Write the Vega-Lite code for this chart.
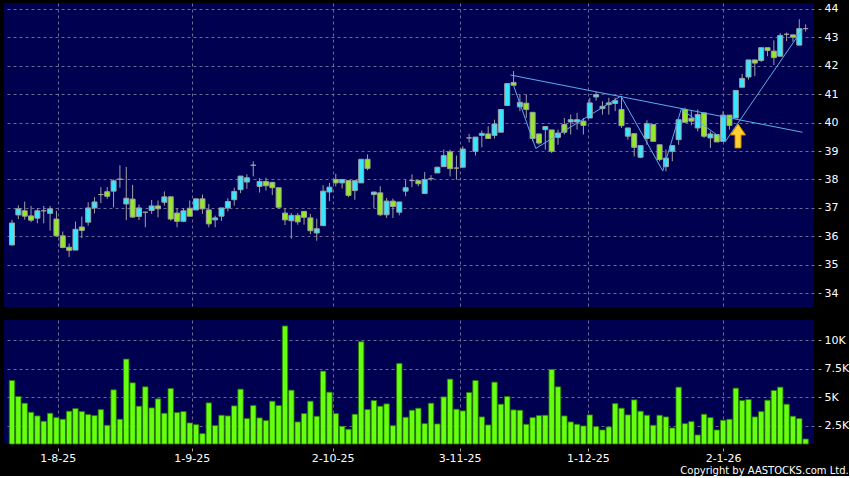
{
  "$schema": "https://vega.github.io/schema/vega-lite/v6.json",
  "background": "#000000",
  "padding": {"left": 4, "top": 2, "right": 0, "bottom": 0},
  "spacing": 13,
  "config": {
    "view": {"fill": "#000050", "stroke": null},
    "font": "DejaVu Sans",
    "axis": {"labelColor": "#ffffff", "labelFont": "DejaVu Sans", "labelFontSize": 11, "tickColor": "#aaaaaa", "gridColor": "#6a6a96", "gridDash": [3, 3], "gridWidth": 1, "domain": false, "labelOverlap": false}
  },
  "title": {"text": "Copyright by AASTOCKS.com Ltd.", "orient": "bottom", "anchor": "end", "frame": "bounds", "color": "#ffffff", "fontSize": 10, "font": "DejaVu Sans", "fontWeight": "normal", "offset": 3},
  "datasets": {
    "k": [
      {"i":0,"o":35.70,"h":36.58,"l":35.68,"c":36.47,"v":6471},
      {"i":1,"o":36.755,"h":37.09,"l":36.61,"c":36.97,"v":5058},
      {"i":2,"o":36.90,"h":37.225,"l":36.59,"c":36.71,"v":4469},
      {"i":3,"o":36.72,"h":37.07,"l":36.50,"c":36.57,"v":3673},
      {"i":4,"o":36.64,"h":37.00,"l":36.46,"c":36.90,"v":3349},
      {"i":5,"o":36.90,"h":37.07,"l":36.46,"c":36.90,"v":2878},
      {"i":6,"o":36.81,"h":37.07,"l":36.20,"c":36.97,"v":3585},
      {"i":7,"o":36.61,"h":36.90,"l":36.00,"c":36.02,"v":3202},
      {"i":8,"o":36.02,"h":36.17,"l":35.58,"c":35.61,"v":3055},
      {"i":9,"o":35.62,"h":35.75,"l":35.28,"c":35.51,"v":3762},
      {"i":10,"o":35.52,"h":36.52,"l":35.52,"c":36.25,"v":3997},
      {"i":11,"o":36.33,"h":36.70,"l":35.94,"c":36.21,"v":3732},
      {"i":12,"o":36.50,"h":37.20,"l":36.38,"c":37.00,"v":3467},
      {"i":13,"o":37.00,"h":37.38,"l":36.81,"c":37.21,"v":3379},
      {"i":14,"o":37.47,"h":37.73,"l":37.17,"c":37.47,"v":3909},
      {"i":15,"o":37.57,"h":37.73,"l":37.32,"c":37.41,"v":2525},
      {"i":16,"o":37.59,"h":38.00,"l":37.02,"c":37.955,"v":5647},
      {"i":17,"o":38.01,"h":38.50,"l":37.71,"c":38.01,"v":3055},
      {"i":18,"o":37.14,"h":38.44,"l":36.57,"c":37.34,"v":8356},
      {"i":19,"o":37.31,"h":37.81,"l":36.65,"c":36.68,"v":6265},
      {"i":20,"o":36.70,"h":37.12,"l":36.57,"c":37.00,"v":4204},
      {"i":21,"o":36.85,"h":36.85,"l":36.32,"c":36.85,"v":5912},
      {"i":22,"o":36.91,"h":37.28,"l":36.79,"c":37.07,"v":4056},
      {"i":23,"o":37.07,"h":37.26,"l":36.67,"c":36.97,"v":4851},
      {"i":24,"o":37.20,"h":37.58,"l":37.08,"c":37.39,"v":3585},
      {"i":25,"o":37.39,"h":37.40,"l":36.55,"c":36.61,"v":5765},
      {"i":26,"o":36.82,"h":36.99,"l":36.32,"c":36.53,"v":3644},
      {"i":27,"o":36.53,"h":37.00,"l":36.50,"c":36.90,"v":3732},
      {"i":28,"o":36.99,"h":37.26,"l":36.71,"c":36.71,"v":2731},
      {"i":29,"o":36.93,"h":37.32,"l":36.93,"c":37.32,"v":2584},
      {"i":30,"o":37.32,"h":37.47,"l":36.79,"c":36.97,"v":1789},
      {"i":31,"o":36.93,"h":37.14,"l":36.32,"c":36.44,"v":4498},
      {"i":32,"o":36.58,"h":36.73,"l":36.32,"c":36.65,"v":2496},
      {"i":33,"o":36.71,"h":37.00,"l":36.55,"c":37.00,"v":3408},
      {"i":34,"o":37.00,"h":37.34,"l":36.88,"c":37.225,"v":3349},
      {"i":35,"o":37.29,"h":37.71,"l":37.08,"c":37.58,"v":4233},
      {"i":36,"o":37.64,"h":38.12,"l":37.52,"c":38.12,"v":5706},
      {"i":37,"o":37.91,"h":38.18,"l":37.67,"c":38.06,"v":3114},
      {"i":38,"o":38.50,"h":38.64,"l":38.11,"c":38.50,"v":4263},
      {"i":39,"o":37.755,"h":38.05,"l":37.54,"c":37.93,"v":3173},
      {"i":40,"o":37.93,"h":38.06,"l":37.61,"c":37.78,"v":2937},
      {"i":41,"o":37.90,"h":37.90,"l":37.45,"c":37.71,"v":4645},
      {"i":42,"o":37.71,"h":37.71,"l":36.97,"c":37.025,"v":4263},
      {"i":43,"o":36.82,"h":37.00,"l":36.40,"c":36.58,"v":11271},
      {"i":44,"o":36.55,"h":36.82,"l":35.92,"c":36.74,"v":5617},
      {"i":45,"o":36.74,"h":36.82,"l":36.41,"c":36.51,"v":2819},
      {"i":46,"o":36.88,"h":36.88,"l":36.41,"c":36.67,"v":3556},
      {"i":47,"o":36.65,"h":36.79,"l":36.08,"c":36.20,"v":4645},
      {"i":48,"o":36.12,"h":36.62,"l":35.85,"c":36.27,"v":3320},
      {"i":49,"o":36.38,"h":37.80,"l":36.38,"c":37.59,"v":7296},
      {"i":50,"o":37.56,"h":37.88,"l":37.24,"c":37.73,"v":5440},
      {"i":51,"o":38.00,"h":38.20,"l":37.76,"c":37.88,"v":3556},
      {"i":52,"o":37.88,"h":38.00,"l":37.68,"c":38.00,"v":2437},
      {"i":53,"o":37.96,"h":37.96,"l":37.38,"c":37.44,"v":2171},
      {"i":54,"o":37.61,"h":37.96,"l":37.29,"c":37.96,"v":3497},
      {"i":55,"o":37.88,"h":38.71,"l":37.88,"c":38.71,"v":9887},
      {"i":56,"o":38.71,"h":38.88,"l":38.32,"c":38.39,"v":3909},
      {"i":57,"o":37.47,"h":37.56,"l":37.00,"c":37.56,"v":4704},
      {"i":58,"o":37.53,"h":37.76,"l":36.71,"c":36.76,"v":4204},
      {"i":59,"o":36.76,"h":37.35,"l":36.65,"c":37.24,"v":4410},
      {"i":60,"o":37.24,"h":37.33,"l":36.65,"c":37.05,"v":2496},
      {"i":61,"o":36.85,"h":37.21,"l":36.74,"c":37.21,"v":7973},
      {"i":62,"o":37.59,"h":37.98,"l":37.41,"c":37.71,"v":3232},
      {"i":63,"o":37.96,"h":38.18,"l":37.73,"c":37.96,"v":3850},
      {"i":64,"o":37.96,"h":37.96,"l":37.76,"c":37.85,"v":4027},
      {"i":65,"o":37.51,"h":38.26,"l":37.51,"c":38.00,"v":2672},
      {"i":66,"o":38.03,"h":38.15,"l":37.95,"c":38.03,"v":4469},
      {"i":67,"o":38.23,"h":38.45,"l":38.23,"c":38.43,"v":2643},
      {"i":68,"o":38.45,"h":39.05,"l":38.45,"c":38.84,"v":5028},
      {"i":69,"o":38.97,"h":39.05,"l":38.11,"c":38.38,"v":6589},
      {"i":70,"o":38.40,"h":38.84,"l":37.99,"c":38.40,"v":3938},
      {"i":71,"o":38.43,"h":39.17,"l":38.43,"c":39.07,"v":3791},
      {"i":72,"o":39.46,"h":39.60,"l":39.30,"c":39.46,"v":5411},
      {"i":73,"o":38.99,"h":39.49,"l":38.84,"c":39.49,"v":6471},
      {"i":74,"o":39.55,"h":39.72,"l":39.13,"c":39.62,"v":3261},
      {"i":75,"o":39.60,"h":39.87,"l":39.44,"c":39.44,"v":2554},
      {"i":76,"o":39.55,"h":40.10,"l":39.44,"c":39.95,"v":6324},
      {"i":77,"o":39.66,"h":40.46,"l":39.66,"c":40.46,"v":4380},
      {"i":78,"o":40.60,"h":41.37,"l":40.60,"c":41.37,"v":5058},
      {"i":79,"o":41.41,"h":41.81,"l":41.30,"c":41.31,"v":3880},
      {"i":80,"o":40.55,"h":40.98,"l":40.40,"c":40.71,"v":3850},
      {"i":81,"o":40.68,"h":40.98,"l":40.16,"c":40.46,"v":2613},
      {"i":82,"o":40.36,"h":40.36,"l":39.34,"c":39.44,"v":3202},
      {"i":83,"o":39.60,"h":39.60,"l":39.22,"c":39.28,"v":3379},
      {"i":84,"o":39.75,"h":39.86,"l":39.05,"c":39.86,"v":3408},
      {"i":85,"o":39.74,"h":39.74,"l":38.93,"c":38.99,"v":7443},
      {"i":86,"o":39.48,"h":39.75,"l":39.22,"c":39.63,"v":5912},
      {"i":87,"o":39.93,"h":40.16,"l":39.58,"c":39.66,"v":3349},
      {"i":88,"o":40.02,"h":40.28,"l":39.58,"c":40.10,"v":2819},
      {"i":89,"o":40.02,"h":40.34,"l":39.75,"c":40.10,"v":2613},
      {"i":90,"o":40.05,"h":40.16,"l":39.58,"c":39.90,"v":2466},
      {"i":91,"o":40.16,"h":40.87,"l":40.16,"c":40.69,"v":3438},
      {"i":92,"o":40.90,"h":41.08,"l":40.77,"c":40.98,"v":2407},
      {"i":93,"o":40.49,"h":40.75,"l":40.28,"c":40.57,"v":2113},
      {"i":94,"o":40.63,"h":40.87,"l":40.28,"c":40.69,"v":2378},
      {"i":95,"o":40.67,"h":40.87,"l":40.40,"c":40.77,"v":4439},
      {"i":96,"o":40.46,"h":40.93,"l":39.81,"c":39.89,"v":4027},
      {"i":97,"o":39.52,"h":39.81,"l":39.40,"c":39.81,"v":3438},
      {"i":98,"o":39.61,"h":39.61,"l":38.81,"c":39.13,"v":4763},
      {"i":99,"o":38.78,"h":39.19,"l":38.75,"c":39.19,"v":3762},
      {"i":100,"o":39.44,"h":40.08,"l":39.22,"c":39.96,"v":3408},
      {"i":101,"o":39.93,"h":39.93,"l":39.34,"c":39.34,"v":2525},
      {"i":102,"o":39.22,"h":39.22,"l":38.64,"c":38.70,"v":3408},
      {"i":103,"o":38.45,"h":39.05,"l":38.29,"c":38.75,"v":3261},
      {"i":104,"o":38.99,"h":39.19,"l":38.64,"c":39.19,"v":2289},
      {"i":105,"o":39.40,"h":40.10,"l":39.22,"c":40.10,"v":5882},
      {"i":106,"o":40.46,"h":40.52,"l":40.01,"c":40.01,"v":2672},
      {"i":107,"o":40.15,"h":40.40,"l":39.90,"c":40.05,"v":2849},
      {"i":108,"o":39.81,"h":40.46,"l":39.69,"c":40.28,"v":1671},
      {"i":109,"o":40.34,"h":40.34,"l":39.46,"c":39.52,"v":3497},
      {"i":110,"o":39.46,"h":39.69,"l":39.11,"c":39.60,"v":3202},
      {"i":111,"o":39.58,"h":39.58,"l":39.32,"c":39.32,"v":2113},
      {"i":112,"o":39.34,"h":40.40,"l":39.34,"c":40.26,"v":2967},
      {"i":113,"o":40.26,"h":40.26,"l":39.75,"c":39.90,"v":3055},
      {"i":114,"o":40.16,"h":41.13,"l":40.14,"c":41.13,"v":5794},
      {"i":115,"o":41.24,"h":41.71,"l":41.24,"c":41.55,"v":4704},
      {"i":116,"o":41.60,"h":42.20,"l":41.51,"c":42.20,"v":4792},
      {"i":117,"o":42.20,"h":42.20,"l":41.63,"c":42.09,"v":3261},
      {"i":118,"o":42.18,"h":42.63,"l":42.13,"c":42.63,"v":3732},
      {"i":119,"o":42.63,"h":42.63,"l":42.33,"c":42.53,"v":4733},
      {"i":120,"o":42.51,"h":42.89,"l":42.02,"c":42.28,"v":5588},
      {"i":121,"o":42.33,"h":43.14,"l":42.33,"c":43.06,"v":5882},
      {"i":122,"o":43.10,"h":43.16,"l":42.86,"c":43.10,"v":4380},
      {"i":123,"o":43.08,"h":43.08,"l":42.84,"c":43.00,"v":3320},
      {"i":124,"o":42.72,"h":43.63,"l":42.72,"c":43.30,"v":3114},
      {"i":125,"o":43.30,"h":43.45,"l":43.20,"c":43.30,"v":1317}
    ],
    "res": [{"i": 78.5, "p": 41.67}, {"i": 124.5, "p": 39.66}],
    "zz": [
      {"i": 79, "p": 41.3},
      {"i": 82.5, "p": 39.09},
      {"i": 95.9, "p": 40.93},
      {"i": 102.5, "p": 38.3},
      {"i": 105.4, "p": 40.47},
      {"i": 112.4, "p": 39.35},
      {"i": 124.5, "p": 43.28}
    ],
    "arrow": [{"i": 114.35, "p": 39.53}]
  },
  "vconcat": [
    {
      "width": 810,
      "height": 304,
      "encoding": {
        "x": {"field": "i", "type": "quantitative", "title": null,
          "scale": {"domain": [-0.47, 125.53], "nice": false, "zero": false},
          "axis": {"values": [7.2, 28.3, 50.5, 70.5, 90.7, 112], "labels": false, "ticks": false, "grid": true, "title": null}}
      },
      "layer": [
        {
          "data": {"name": "k"},
          "mark": {"type": "rule", "color": "#a0a0a0", "strokeWidth": 1},
          "encoding": {
            "y": {"field": "l", "type": "quantitative", "title": null,
              "scale": {"domain": [33.52, 44.2], "nice": false, "zero": false},
              "axis": {"orient": "right", "values": [34, 35, 36, 37, 38, 39, 40, 41, 42, 43, 44], "tickCount": 11, "offset": 4, "tickSize": 3, "labelPadding": 3, "grid": true, "labelOverlap": false, "title": null}},
            "y2": {"field": "h"}
          }
        },
        {
          "data": {"name": "k"},
          "mark": {"type": "bar", "size": 5, "stroke": "#a0a0a0", "strokeWidth": 1},
          "encoding": {
            "y": {"field": "o", "type": "quantitative", "title": null,
              "scale": {"domain": [33.52, 44.2], "nice": false, "zero": false},
              "axis": {"orient": "right", "values": [34, 35, 36, 37, 38, 39, 40, 41, 42, 43, 44], "tickCount": 11, "offset": 4, "tickSize": 3, "labelPadding": 3, "grid": true, "labelOverlap": false, "title": null}},
            "y2": {"field": "c"},
            "color": {"condition": [{"test": "datum.c > datum.o", "value": "#38e6ff"}, {"test": "datum.c < datum.o", "value": "#94ea24"}], "value": "#a8a8a8"}
          }
        },
        {
          "data": {"name": "res"},
          "mark": {"type": "line", "color": "#5aaee8", "strokeWidth": 1},
          "encoding": {"y": {"field": "p", "type": "quantitative", "title": null,
              "scale": {"domain": [33.52, 44.2], "nice": false, "zero": false},
              "axis": {"orient": "right", "values": [34, 35, 36, 37, 38, 39, 40, 41, 42, 43, 44], "tickCount": 11, "offset": 4, "tickSize": 3, "labelPadding": 3, "grid": true, "labelOverlap": false, "title": null}}}
        },
        {
          "data": {"name": "zz"},
          "mark": {"type": "line", "color": "#5aaee8", "strokeWidth": 1},
          "encoding": {"y": {"field": "p", "type": "quantitative", "title": null,
              "scale": {"domain": [33.52, 44.2], "nice": false, "zero": false},
              "axis": {"orient": "right", "values": [34, 35, 36, 37, 38, 39, 40, 41, 42, 43, 44], "tickCount": 11, "offset": 4, "tickSize": 3, "labelPadding": 3, "grid": true, "labelOverlap": false, "title": null}}}
        },
        {
          "data": {"name": "arrow"},
          "mark": {"type": "point", "shape": "M0,-1 L0.63,-0.08 L0.25,-0.08 L0.25,1 L-0.25,1 L-0.25,-0.08 L-0.63,-0.08 Z", "size": 576, "filled": true, "fill": "#ffd030", "stroke": "#d08a00", "strokeWidth": 1, "opacity": 1},
          "encoding": {"y": {"field": "p", "type": "quantitative", "title": null,
              "scale": {"domain": [33.52, 44.2], "nice": false, "zero": false},
              "axis": {"orient": "right", "values": [34, 35, 36, 37, 38, 39, 40, 41, 42, 43, 44], "tickCount": 11, "offset": 4, "tickSize": 3, "labelPadding": 3, "grid": true, "labelOverlap": false, "title": null}}}
        }
      ]
    },
    {
      "width": 810,
      "height": 124,
      "data": {"name": "k"},
      "mark": {"type": "bar", "size": 5.4, "fill": "#66ff10", "stroke": "#2a7a00", "strokeWidth": 0.8},
      "encoding": {
        "x": {"field": "i", "type": "quantitative", "title": null,
          "scale": {"domain": [-0.47, 125.53], "nice": false, "zero": false},
          "axis": {"values": [7.2, 28.3, 50.5, 70.5, 90.7, 112], "grid": true, "ticks": true, "tickSize": 3, "offset": 4, "labelPadding": 1, "labelOverlap": false, "title": null,
            "labelExpr": "datum.value == 7.2 ? '1-8-25' : datum.value == 28.3 ? '1-9-25' : datum.value == 50.5 ? '2-10-25' : datum.value == 70.5 ? '3-11-25' : datum.value == 90.7 ? '1-12-25' : '2-1-26'"}},
        "y": {"field": "v", "type": "quantitative", "title": null,
          "scale": {"domain": [875, 11800], "nice": false, "zero": false, "clamp": true},
          "axis": {"orient": "right", "values": [2500, 5000, 7500, 10000], "labelExpr": "(datum.value / 1000) + 'K'", "offset": 4, "tickSize": 3, "labelPadding": 3, "grid": true, "labelOverlap": false, "title": null}},
        "y2": {"datum": 0}
      }
    }
  ]
}
